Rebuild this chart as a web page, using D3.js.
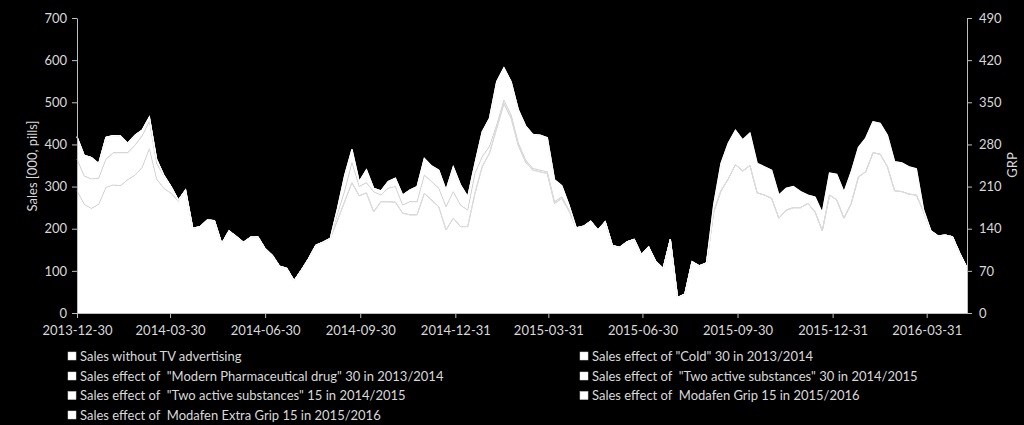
<!DOCTYPE html>
<html><head><meta charset="utf-8">
<script src="https://cdn.jsdelivr.net/npm/d3@7"></script>
<style>
html,body{margin:0;padding:0;background:#000;}
svg{display:block;background:#000;}
text{font-family:Lato,"Open Sans",sans-serif;fill:#d9d9d9;white-space:pre;}
</style></head><body>
<svg id="chart" width="1024" height="425"></svg>
<script>
// ---- data (weekly, starting 2013-12-30) ----
const startDate = "2013-12-30";
const seriesKeys = ["base","cold","modern","two30","two15","grip15","extraGrip15"];
const seriesLabels = [
  "Sales without TV advertising",
  "Sales effect of \"Cold\" 30 in 2013/2014",
  "Sales effect of  \"Modern Pharmaceutical drug\" 30 in 2013/2014",
  "Sales effect of  \"Two active substances\" 30 in 2014/2015",
  "Sales effect of  \"Two active substances\" 15 in 2014/2015",
  "Sales effect of  Modafen Grip 15 in 2015/2016",
  "Sales effect of  Modafen Extra Grip 15 in 2015/2016"
];
const base = [
  290,258,248,258,298,304,302,316,327,345,390,318,296,284,265,292,
  201,205,221,219,165,195,182,168,180,181,153,137,111,106,77,102,129,161,168,177,
  220,265,309,278,285,240,264,264,263,237,233,233,284,268,252,197,225,205,205,284,347,379,438,497,462,397,358,339,335,331,260,272,242,
  202,206,218,197,217,160,156,169,175,139,157,122,106,175,37,45,122,112,119,
  240,290,318,352,337,350,285,280,272,225,244,250,250,260,240,195,280,268,225,260,323,335,380,377,347,290,288,282,280,240,195,
  183,185,181,142,108
];
const cold = [
  75,67,70,62,67,76,78,64,71,75,65,37,29,16,3,0,
  0,0,0,0,0,0,0,0,0,0,0,0, 0,0,0,0,0,0,0,0,0,0,0,0, 0,0,0,0,0,0,0,0,0,0,0,0,
  0,0,0,0,0,0,0,0,0,0,0,0, 0,0,0,0,0,0,0,0,0,0,0,0, 0,0,0,0,0,0,0,0,0,0,0,0,
  0,0,0,0,0,0,0,0,0,0,0,0, 0,0,0,0,0,0,0,0,0,0,0,0, 0,0,0,0,0,0,0,0,0,0,0,0
];
const modern = [
  53,49,51,35,52,41,40,23,24,14,10,10,2,0,0,0,
  0,0,0,0,0,0,0,0,0,0,0,0, 0,0,0,0,0,0,0,0,0,0,0,0, 0,0,0,0,0,0,0,0,0,0,0,0,
  0,0,0,0,0,0,0,0,0,0,0,0, 0,0,0,0,0,0,0,0,0,0,0,0, 0,0,0,0,0,0,0,0,0,0,0,0,
  0,0,0,0,0,0,0,0,0,0,0,0, 0,0,0,0,0,0,0,0,0,0,0,0, 0,0,0,0,0,0,0,0,0,0,0,0
];
const two30 = [
  0,0,0,0,0,0,0,0,0,0,0,0, 0,0,0,0,0,0,0,0,0,0,0,0, 0,0,0,0,0,0,0,0,0,0,0,0,
  15,25,48,22,24,48,16,32,37,19,31,31,43,44,44,55,63,51,39,47,24,16,8,8,8,6,5,4,4,4,4,4,2,
  0,0,0,0,0,0,0,0,0,0,0,0, 0,0,0,0,0,0,0,0,0,0,0,0, 0,0,0,0,0,0,0,0,0,0,0,0,
  0,0,0,0,0,0,0,0,0,0,0,0, 0,0,0,0,0,0,0
];
const two15 = [
  0,0,0,0,0,0,0,0,0,0,0,0, 0,0,0,0,0,0,0,0,0,0,0,0, 0,0,0,0,0,0,0,0,0,0,0,0,
  13,37,31,12,31,8,10,16,20,24,28,36,40,37,43,40,59,48,32,24,59,67,103,77,79,79,81,81,83,81,52,26,12,
  0,0,0,0,0,0,0,0,0,0,0,0, 0,0,0,0,0,0,0,0,0,0,0,0, 0,0,0,0,0,0,0,0,0,0,0,0,
  0,0,0,0,0,0,0,0,0,0,0,0, 0,0,0,0,0,0,0
];
const grip15 = [
  0,0,0,0,0,0,0,0,0,0,0,0, 0,0,0,0,0,0,0,0,0,0,0,0, 0,0,0,0,0,0,0,0,0,0,0,0,
  0,0,0,0,0,0,0,0,0,0,0,0, 0,0,0,0,0,0,0,0,0,0,0,0, 0,0,0,0,0,0,0,0,0,0,0,0,
  0,0,0,0,0,0,0,0,0,0,0,0, 0,0,0,0,
  18,65,85,82,74,77,70,67,67,55,52,50,38,20,35,43,52,61,62,75,70,80,74,73,75,69,68,65,62,5,0,
  0,0,0,0,0
];
const extraGrip15 = [
  0,0,0,0,0,0,0,0,0,0,0,0, 0,0,0,0,0,0,0,0,0,0,0,0, 0,0,0,0,0,0,0,0,0,0,0,0,
  0,0,0,0,0,0,0,0,0,0,0,0, 0,0,0,0,0,0,0,0,0,0,0,0, 0,0,0,0,0,0,0,0,0,0,0,0,
  0,0,0,0,0,0,0,0,0,0,0,0, 0,0,0,0,0,0,0,0,0,0,0,0, 0,0,0,0,0,0,0,0,0,0,0,0,
  0,0,0,0,0,0,0,0,0,0,0,0, 0,0,0,0,0,0,0,0,0,0,0,0
];
const xTickDates = ["2013-12-30","2014-03-30","2014-06-30","2014-09-30","2014-12-31","2015-03-31","2015-06-30","2015-09-30","2015-12-31","2016-03-31"];
const leftTicks = [0,100,200,300,400,500,600,700];
const rightTicks = [0,70,140,210,280,350,420,490];

// ---- build ----
const parse = d3.utcParse("%Y-%m-%d");
const fmt = d3.utcFormat("%Y-%m-%d");
const t0 = parse(startDate);
const seriesArrays = {base, cold, modern, two30, two15, grip15, extraGrip15};
const data = base.map((_, i) => {
  const row = {date: d3.utcDay.offset(t0, 7 * i)};
  seriesKeys.forEach(k => row[k] = seriesArrays[k][i]);
  return row;
});
const stacked = d3.stack().keys(seriesKeys)(data);

const svg = d3.select("#chart");
const x = d3.scaleUtc().domain([data[0].date, data[data.length - 1].date]).range([77, 967]);
const y = d3.scaleLinear().domain([0, 700]).range([313, 18]);
const y2 = d3.scaleLinear().domain([0, 490]).range([313, 18]);

const area = d3.area().x(d => x(d.data.date)).y0(d => y(d[0])).y1(d => y(d[1]));
const line = d3.line().x(d => x(d.data.date)).y(d => y(d[1]));

svg.append("g").selectAll("path").data(stacked).join("path")
  .attr("d", area).attr("fill", "#ffffff").attr("stroke", "none");
// boundaries between layers
svg.append("g").selectAll("path").data(stacked.slice(0, -1)).join("path")
  .attr("d", line).attr("fill", "none").attr("stroke", "#dadada").attr("stroke-width", 0.9);
// outer top edge
svg.append("path").datum(stacked[stacked.length - 1]).attr("d", line)
  .attr("fill", "none").attr("stroke", "#ffffff").attr("stroke-width", 1.3);

const axisColor = "#bfbfbf";
function styleAxis(g) {
  g.selectAll("path.domain").attr("stroke", axisColor);
  g.selectAll(".tick line").attr("stroke", axisColor);
  g.selectAll(".tick text").attr("fill", "#d9d9d9").style("font-size", "13px")
    .style("font-family", "Lato, 'Open Sans', sans-serif");
}
svg.append("g").attr("transform", "translate(77,0)")
  .call(d3.axisLeft(y).tickValues(leftTicks).tickSize(5).tickSizeOuter(0).tickPadding(5))
  .call(styleAxis);
svg.append("g").attr("transform", "translate(967,0)")
  .call(d3.axisRight(y2).tickValues(rightTicks).tickSize(5).tickSizeOuter(0).tickPadding(7))
  .call(styleAxis);
svg.append("g").attr("transform", "translate(0,313)")
  .call(d3.axisBottom(x).tickValues(xTickDates.map(parse)).tickFormat(fmt).tickSize(5).tickSizeOuter(0).tickPadding(8))
  .call(styleAxis);

svg.append("text").attr("transform", "translate(37,166) rotate(-90)")
  .attr("text-anchor", "middle").style("font-size", "13px").text("Sales [000, pills]");
svg.append("text").attr("transform", "translate(1017,165) rotate(-90)")
  .attr("text-anchor", "middle").style("font-size", "13px").text("GRP");

// legend (two columns)
const legendPos = [[68,356],[580,356],[68,376],[580,376],[68,395.5],[580,395.5],[68,415]];
const lg = svg.append("g").selectAll("g").data(seriesKeys).join("g")
  .attr("transform", (d, i) => `translate(${legendPos[i][0]},${legendPos[i][1]})`);
lg.append("rect").attr("x", 0).attr("y", -4).attr("width", 8).attr("height", 8)
  .attr("fill", "#ffffff").attr("stroke", "#d9d9d9").attr("stroke-width", 0.5);
lg.append("text").attr("x", 12).attr("dy", "0.35em").style("font-size", "13px")
  .attr("fill", "#e6e6e6").text((d, i) => seriesLabels[i]);
</script>
</body></html>
